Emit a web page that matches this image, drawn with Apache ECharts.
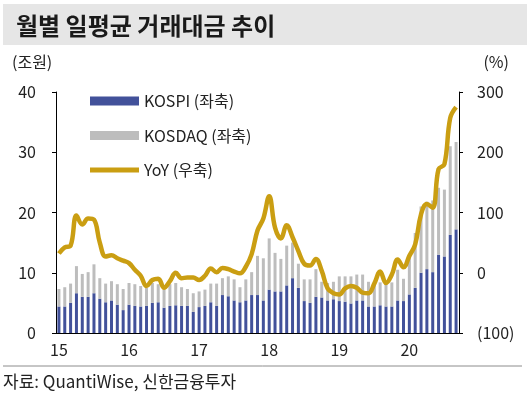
<!DOCTYPE html>
<html>
<head>
<meta charset="utf-8">
<script src="https://cdn.jsdelivr.net/npm/echarts@6/dist/echarts.min.js"></script>
<style>
    html, body { margin: 0; padding: 0; background: #fff; }
    #chart { width: 530px; height: 405px; }
</style>
</head>
<body>
<div id="chart"></div>
<script>
// 월별 (YY.MM)
var months = [
    '15.01','15.02','15.03','15.04','15.05','15.06','15.07','15.08','15.09','15.10','15.11','15.12',
    '16.01','16.02','16.03','16.04','16.05','16.06','16.07','16.08','16.09','16.10','16.11','16.12',
    '17.01','17.02','17.03','17.04','17.05','17.06','17.07','17.08','17.09','17.10','17.11','17.12',
    '18.01','18.02','18.03','18.04','18.05','18.06','18.07','18.08','18.09','18.10','18.11','18.12',
    '19.01','19.02','19.03','19.04','19.05','19.06','19.07','19.08','19.09','19.10','19.11','19.12',
    '20.01','20.02','20.03','20.04','20.05','20.06','20.07','20.08','20.09'
];

// 조원
var kospi = [
    4.4, 4.4, 5.0, 6.6, 6.0, 6.0, 6.6, 5.7, 5.1, 5.4, 4.7, 3.8,
    4.7, 4.5, 4.4, 4.5, 5.0, 5.1, 4.2, 4.5, 4.6, 4.5, 4.5, 3.5,
    4.3, 4.5, 5.1, 4.5, 6.3, 6.1, 5.4, 5.1, 5.4, 6.3, 6.3, 5.4,
    7.2, 6.9, 6.9, 7.9, 9.1, 7.5, 5.3, 5.0, 6.0, 5.9, 5.4, 5.6,
    5.3, 5.2, 4.9, 5.4, 5.4, 4.4, 4.4, 4.6, 4.4, 4.4, 5.4, 5.3,
    6.4, 7.5, 10.0, 10.6, 10.1, 13.0, 12.7, 16.3, 17.2
];
var kosdaq = [
    2.9, 3.2, 3.2, 4.5, 3.8, 4.1, 4.8, 3.4, 3.1, 3.2, 3.4, 3.5,
    3.6, 3.6, 3.4, 3.0, 3.3, 3.0, 3.0, 3.6, 3.7, 3.1, 2.8, 3.1,
    2.6, 2.7, 3.1, 3.7, 2.8, 3.3, 3.5, 2.5, 3.5, 3.8, 6.5, 7.0,
    8.5, 6.4, 5.4, 6.6, 5.9, 4.0, 3.6, 3.9, 4.6, 2.6, 2.9, 2.9,
    4.1, 4.2, 4.5, 4.3, 4.3, 4.1, 4.1, 3.8, 4.0, 4.0, 5.1, 3.7,
    6.6, 9.1, 11.0, 11.2, 11.9, 11.1, 11.1, 14.7, 14.5
];
// %
var yoy = [
    32, 42, 45, 95, 80, 90, 88, 50, 27, 29, 24, 20,
    16, 5, -5, -22, -12, -10, -25, -14, 0, -9, -8, -8,
    -12, -5, 7, 1, 8, 6, 2, -1, 10, 31, 70, 90,
    127, 75, 57, 79, 59, 36, 15, 12, 23, 3, -26, -34,
    -36, -26, -22, -25, -33, -34, -18, 2, -17, -3, 22, 9,
    28, 47, 97, 114, 108, 172, 180, 257, 275
];

var leftTicks = [0, 40, 10];      // min, max, interval
var rightTicks = [-100, 300, 100];

var font = '"Noto Sans CJK KR", "Noto Sans", sans-serif';
var lineColor = '#CA9E12';

var option = {
    animation: false,
    textStyle: { fontFamily: font },
    grid: { left: 56, right: 71, top: 92, bottom: 72 },
    legend: {
        orient: 'vertical',
        left: 90,
        top: 93,
        padding: 0,
        itemWidth: 49,
        itemHeight: 9,
        itemGap: 18.5,
        textStyle: { fontSize: 16, color: '#222', fontFamily: font },
        data: [
            { name: 'KOSPI (좌축)', icon: 'rect' },
            { name: 'KOSDAQ (좌축)', icon: 'rect' },
            { name: 'YoY (우축)', icon: 'path://M0,0 L49,0 L49,5 L0,5 Z', itemStyle: { color: lineColor } }
        ]
    },
    xAxis: {
        type: 'category',
        data: months,
        boundaryGap: true,
        axisLine: { lineStyle: { color: '#000', width: 1 } },
        axisTick: { interval: 0, length: 4, lineStyle: { color: '#000' } },
        axisLabel: {
            interval: function (index) { return index % 12 === 0; },
            formatter: function (v) { return v.slice(0, 2); },
            fontSize: 16,
            color: '#222',
            margin: 9
        }
    },
    yAxis: [
        {
            type: 'value',
            min: leftTicks[0],
            max: leftTicks[1],
            interval: leftTicks[2],
            splitLine: { show: false },
            axisLine: { show: true, lineStyle: { color: '#000' } },
            axisTick: { show: true, length: 4, lineStyle: { color: '#000' } },
            axisLabel: { fontSize: 16, color: '#222', margin: 20 }
        },
        {
            type: 'value',
            position: 'right',
            min: rightTicks[0],
            max: rightTicks[1],
            interval: rightTicks[2],
            splitLine: { show: false },
            axisLine: { show: true, lineStyle: { color: '#000' } },
            axisTick: { show: true, length: 4, lineStyle: { color: '#000' } },
            axisLabel: {
                fontSize: 16,
                color: '#222',
                margin: 18,
                formatter: function (v) { return v < 0 ? '(' + Math.abs(v) + ')' : v; }
            }
        }
    ],
    series: [
        {
            name: 'KOSPI (좌축)',
            type: 'bar',
            stack: 'tv',
            barWidth: 3,
            itemStyle: { color: '#42519A' },
            data: kospi
        },
        {
            name: 'KOSDAQ (좌축)',
            type: 'bar',
            stack: 'tv',
            barWidth: 3,
            itemStyle: { color: '#BDBDBD' },
            data: kosdaq
        },
        {
            name: 'YoY (우축)',
            type: 'line',
            yAxisIndex: 1,
            smooth: 0.4,
            symbol: 'none',
            lineStyle: { color: lineColor, width: 4.5 },
            itemStyle: { color: lineColor },
            data: yoy
        }
    ],
    graphic: [
        {
            type: 'rect',
            shape: { x: 3, y: 4, width: 524, height: 41 },
            style: { fill: '#E6E6E6' },
            z: -1
        },
        {
            type: 'text',
            style: {
                text: '월별 일평균 거래대금 추이',
                x: 16, y: 26,
                verticalAlign: 'middle',
                font: 'bold 24px ' + font,
                fill: '#1a1a1a'
            }
        },
        {
            type: 'text',
            style: {
                text: '(조원)', x: 12, y: 62, verticalAlign: 'middle',
                font: '16px ' + font, fill: '#222'
            }
        },
        {
            type: 'text',
            style: {
                text: '(%)', x: 509, y: 62, align: 'right', verticalAlign: 'middle',
                font: '16px ' + font, fill: '#222'
            }
        },
        {
            type: 'line',
            shape: { x1: 3, y1: 366, x2: 522, y2: 366 },
            style: { stroke: '#8c8c8c', lineWidth: 1 }
        },
        {
            type: 'text',
            style: {
                text: '자료: QuantiWise, 신한금융투자', x: 3, y: 382, verticalAlign: 'middle',
                font: '17px ' + font, fill: '#222'
            }
        }
    ]
};

var chart = echarts.init(document.getElementById('chart'));
chart.setOption(option);
</script>
</body>
</html>
